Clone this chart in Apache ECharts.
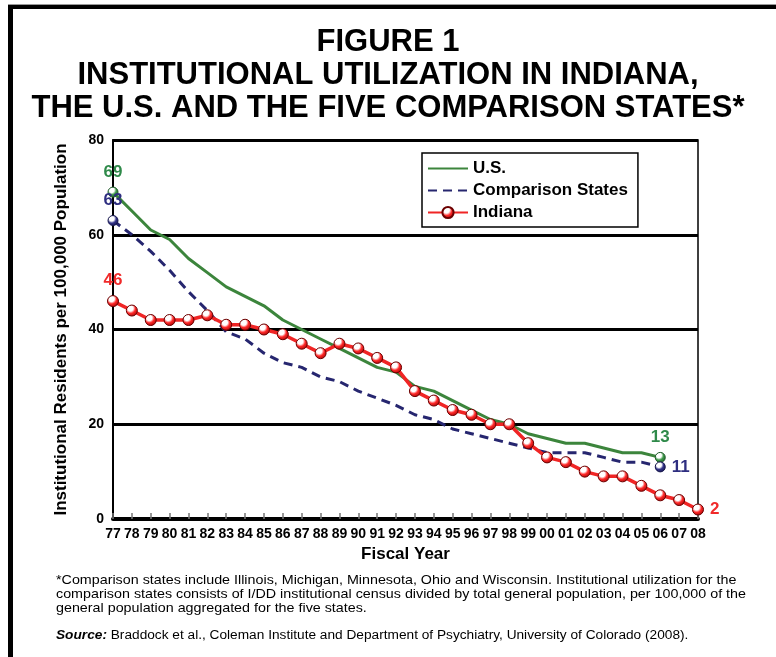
<!DOCTYPE html>
<html>
<head>
<meta charset="utf-8">
<script src="https://cdn.jsdelivr.net/npm/echarts@6/dist/echarts.min.js"></script>
<style>
  html, body { margin: 0; padding: 0; background: #fff; }
  #chart { width: 776px; height: 657px; }
</style>
</head>
<body>
<div id="chart"></div>
<script>
// fiscal years 1977 - 2008
var years = ['77','78','79','80','81','82','83','84','85','86','87','88','89','90','91','92',
             '93','94','95','96','97','98','99','00','01','02','03','04','05','06','07','08'];

var usValues = [69, 65, 61, 59, 55, 52, 49, 47, 45, 42, 40, 38, 36, 34, 32, 31,
                28, 27, 25, 23, 21, 20, 18, 17, 16, 16, 15, 14, 14, 13, null, null];

var comparisonValues = [63, 60, 56.5, 52.5, 48, 44, 39.5, 38, 35, 33, 32, 30, 29, 27, 25.5, 24,
                        22, 21, 19, 18, 17, 16, 15, 14, 14, 14, 13, 12, 12, 11, null, null];

var indianaValues = [46, 44, 42, 42, 42, 43, 41, 41, 40, 39, 37, 35, 37, 36, 34, 32,
                     27, 25, 23, 22, 20, 20, 16, 13, 12, 10, 9, 9, 7, 5, 4, 2];

var yTicks = [0, 20, 40, 60, 80];

var titleLines = ['FIGURE 1',
                  'INSTITUTIONAL UTILIZATION IN INDIANA,',
                  'THE U.S. AND THE FIVE COMPARISON STATES*'];

var FONT = '"Liberation Sans", Arial, Helvetica, sans-serif';

function ball(base, dark) {
    return {
        type: 'radial', x: 0.38, y: 0.32, r: 0.75,
        colorStops: [
            { offset: 0, color: '#ffffff' },
            { offset: 0.3, color: '#ffffff' },
            { offset: 0.55, color: base },
            { offset: 1, color: dark }
        ]
    };
}

function endLabel(color, pos) {
    return {
        show: true, position: pos, distance: 6, formatter: '{c}',
        color: color, fontFamily: FONT, fontWeight: 'bold', fontSize: 17
    };
}

// ball markers with value labels at the first and last reported year
function endPoints(values, lastIdx, color, base, dark, lastPos) {
    return {
        symbol: 'circle',
        symbolSize: 10,
        silent: true,
        itemStyle: { color: ball(base, dark), borderColor: dark, borderWidth: 1 },
        data: [
            { coord: [years[0], values[0]], value: values[0], label: endLabel(color, 'top') },
            { coord: [years[lastIdx], values[lastIdx]], value: values[lastIdx], label: endLabel(color, lastPos) }
        ]
    };
}

function indianaData(values) {
    var last = values.length - 1;
    return values.map(function (v, i) {
        if (i !== 0 && i !== last) return v;
        return { value: v, label: endLabel('#f02a2a', i === 0 ? 'top' : 'right') };
    });
}

var chart = echarts.init(document.getElementById('chart'), null, { renderer: 'canvas' });

chart.setOption({
    animation: false,
    backgroundColor: '#fff',
    title: titleLines.map(function (t, i) {
        return {
            text: t,
            left: 'center',
            top: 27 + i * 33,
            padding: 0,
            textStyle: { fontFamily: FONT, fontWeight: 'bold', fontSize: 31, color: '#000' }
        };
    }),
    legend: {
        data: [
            { name: 'U.S.', itemStyle: { opacity: 0 } },
            { name: 'Comparison States', itemStyle: { opacity: 0 } },
            { name: 'Indiana' }
        ],
        orient: 'vertical',
        left: 422,
        top: 153,
        itemWidth: 40,
        itemHeight: 14,
        itemGap: 5,
        padding: [7, 10, 6, 5],
        borderColor: '#000',
        borderWidth: 1.5,
        backgroundColor: '#fff',
        textStyle: { fontFamily: FONT, fontWeight: 'bold', fontSize: 17, color: '#000' }
    },
    grid: {
        left: 113, right: 78, top: 140, bottom: 138,
        show: true, borderColor: '#000', borderWidth: 1.5
    },
    xAxis: {
        type: 'category',
        data: years,
        boundaryGap: false,
        name: 'Fiscal Year',
        nameLocation: 'middle',
        nameGap: 26,
        nameTextStyle: { fontFamily: FONT, fontWeight: 'bold', fontSize: 17, color: '#000' },
        axisLine: { lineStyle: { color: '#000', width: 4 } },
        axisTick: { show: true, inside: true, length: 6, interval: 0, lineStyle: { color: '#777', width: 1.5 } },
        axisLabel: {
            interval: 0, margin: 8,
            fontFamily: FONT, fontWeight: 'bold', fontSize: 14, color: '#000'
        }
    },
    yAxis: {
        type: 'value',
        min: yTicks[0],
        max: yTicks[yTicks.length - 1],
        interval: 20,
        name: 'Institutional Residents per 100,000 Population',
        nameLocation: 'middle',
        nameGap: 43,
        nameTextStyle: { fontFamily: FONT, fontWeight: 'bold', fontSize: 17, color: '#000' },
        axisLine: { show: true, lineStyle: { color: '#000', width: 2 } },
        axisTick: { show: false },
        axisLabel: { margin: 9, fontFamily: FONT, fontWeight: 'bold', fontSize: 14, color: '#000' },
        splitLine: { show: true, lineStyle: { color: '#000', width: 3 } }
    },
    series: [
        {
            name: 'U.S.',
            type: 'line',
            symbol: 'none',
            z: 3,
            data: usValues,
            lineStyle: { color: '#3c853c', width: 3 },
            itemStyle: { color: '#3c853c' },
            markPoint: endPoints(usValues, 29, '#2f8a4a', '#3f9a4a', '#1f5a2a', 'top')
        },
        {
            name: 'Comparison States',
            type: 'line',
            symbol: 'none',
            z: 2,
            data: comparisonValues,
            lineStyle: { color: '#26266f', width: 3, type: [9, 6] },
            itemStyle: { color: '#26266f' },
            markPoint: endPoints(comparisonValues, 29, '#2e2e80', '#34348a', '#14144a', 'right')
        },
        {
            name: 'Indiana',
            type: 'line',
            symbol: 'circle',
            symbolSize: 11,
            z: 4,
            data: indianaData(indianaValues),
            lineStyle: { color: '#f02525', width: 3.5 },
            itemStyle: { color: ball('#ff2a2a', '#9a0000'), borderColor: '#6a0000', borderWidth: 1 }
        }
    ],
    graphic: [
        { type: 'rect', shape: { x: 8, y: 4, width: 768, height: 1 }, style: { fill: '#999' } },
        { type: 'rect', shape: { x: 8, y: 5, width: 768, height: 4 }, style: { fill: '#000' } },
        { type: 'rect', shape: { x: 8, y: 5, width: 5, height: 652 }, style: { fill: '#000' } },
        {
            type: 'text', x: 56, y: 573, scaleX: 1.1,
            style: {
                text: '*Comparison states include Illinois, Michigan, Minnesota, Ohio and Wisconsin. Institutional utilization for the\n' +
                      'comparison states consists of I/DD institutional census divided by total general population, per 100,000 of the\n' +
                      'general population aggregated for the five states.',
                font: '13px ' + FONT,
                lineHeight: 14,
                fill: '#000'
            }
        },
        {
            type: 'text', x: 56, y: 630, scaleX: 1.14,
            style: {
                text: '{b|Source:} Braddock et al., Coleman Institute and Department of Psychiatry, University of Colorado (2008).',
                font: '12px ' + FONT,
                fill: '#000',
                rich: { b: { fontFamily: FONT, fontSize: 12, fontWeight: 'bold', fontStyle: 'italic', fill: '#000' } }
            }
        }
    ]
});
</script>
</body>
</html>
